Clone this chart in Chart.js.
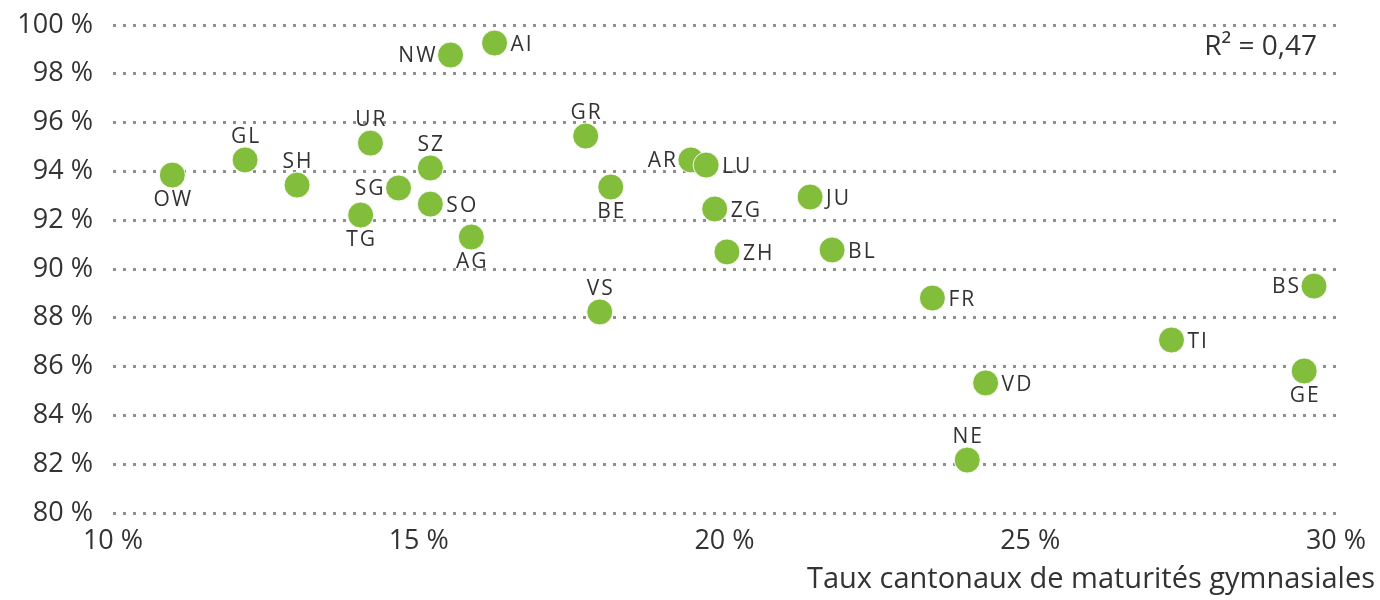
<!DOCTYPE html>
<html>
<head>
<meta charset="utf-8">
<script src="https://cdn.jsdelivr.net/npm/chart.js@4.4.1/dist/chart.umd.min.js"></script>
<style>
  html, body { margin: 0; padding: 0; background: #fff; }
  #wrap { width: 1380px; height: 600px; }
</style>
</head>
<body>
<div id="wrap"><canvas id="fig"></canvas></div>
<script>
// cantons and their values
const cantons = ["OW","GL","SH","UR","SZ","SG","SO","TG","NW","AI","GR","AR","LU","BE","ZG","JU","AG","ZH","BL","VS","FR","BS","TI","VD","GE","NE"];
const gymRate = [10.97,12.16,13.01,14.21,15.19,14.67,15.19,14.05,15.52,16.24,17.73,19.45,19.70,18.14,19.84,21.40,15.86,20.04,21.76,17.96,23.40,29.64,27.31,24.27,29.48,23.97];
const yRate   = [93.85,94.47,93.44,95.16,94.14,93.32,92.66,92.21,98.77,99.26,95.45,94.47,94.26,93.36,92.46,92.95,91.31,90.70,90.78,88.24,88.81,89.30,87.09,85.33,85.82,82.17];
const xTicks = [10, 15, 20, 25, 30];
const yTicks = [80, 82, 84, 86, 88, 90, 92, 94, 96, 98, 100];
const r2Text = "R\u00b2 = 0,47";
const xTitle = "Taux cantonaux de maturit\u00e9s gymnasiales";

// where each canton's code sits around its dot
const labelSide = {
    OW:"below", GL:"above", SH:"above", UR:"above", SZ:"above", SG:"left", SO:"right",
    TG:"below", NW:"left", AI:"right", GR:"above", AR:"left", LU:"right", BE:"below",
    ZG:"right", JU:"right", AG:"below", ZH:"right", BL:"right", VS:"above", FR:"right",
    BS:"left", TI:"right", VD:"right", GE:"below", NE:"above"
};

const FONT = "'Open Sans', sans-serif";
const TEXT = "#333333";

const pointLabels = {
    id: 'pointLabels',
    afterDatasetsDraw(chart) {
        const ctx = chart.ctx;
        const meta = chart.getDatasetMeta(0);
        ctx.save();
        ctx.font = "21px " + FONT;
        ctx.fillStyle = TEXT;
        ctx.letterSpacing = "2px";
        ctx.textBaseline = "middle";
        meta.data.forEach((pt, i) => {
            const name = cantons[i];
            const side = labelSide[name];
            let x = pt.x, y = pt.y;
            if (side == "above") { ctx.textAlign = "center"; y -= 23; x += 1; }
            else if (side == "below") { ctx.textAlign = "center"; y += 25; x += 1; }
            else if (side == "left") { ctx.textAlign = "right"; x -= 13; y += 1; }
            else { ctx.textAlign = "left"; x += 16; y += 2; }
            ctx.fillText(name, x, y);
        });
        ctx.restore();
    },
    afterDraw(chart) {
        const ctx = chart.ctx;
        const area = chart.chartArea;
        ctx.save();
        ctx.fillStyle = TEXT;
        ctx.textAlign = "right";
        ctx.textBaseline = "middle";
        ctx.font = "28px " + FONT;
        ctx.fillText(r2Text, area.right - 19, area.top + 22);
        ctx.font = "29px " + FONT;
        ctx.fillText(xTitle, chart.width - 5, 580);
        ctx.restore();
    }
};

new Chart(document.getElementById('fig').getContext('2d'), {
    type: 'scatter',
    data: {
        labels: cantons,
        datasets: [{
            data: gymRate.map((x, i) => ({ x: x, y: yRate[i] })),
            backgroundColor: '#82bd3c',
            borderColor: 'rgba(255,255,255,0.9)',
            borderWidth: 1,
            pointRadius: 13,
            pointHoverRadius: 13
        }]
    },
    options: {
        responsive: true,
        maintainAspectRatio: false,
        animation: false,
        layout: { padding: { top: 25, right: 44, left: 0, bottom: 0 } },
        plugins: { legend: { display: false }, tooltip: { enabled: false } },
        scales: {
            x: {
                type: 'linear',
                min: 10, max: 30,
                afterBuildTicks: (s) => { s.ticks = xTicks.map(v => ({ value: v })); },
                afterFit: (s) => { s.height = 87; s.paddingLeft = 0; s.paddingRight = 0; },
                grid: { display: false, drawTicks: false },
                border: { display: false },
                ticks: {
                    padding: 12,
                    color: TEXT,
                    font: { family: FONT, size: 27 },
                    callback: (v) => v + " %"
                }
            },
            y: {
                type: 'linear',
                min: 80, max: 100,
                afterBuildTicks: (s) => { s.ticks = yTicks.map(v => ({ value: v })); },
                afterFit: (s) => { s.width = 113; s.paddingTop = 0; s.paddingBottom = 0; },
                grid: { color: '#8f8f8f', lineWidth: 3, drawTicks: false },
                border: { display: false, dash: [3, 7] },
                ticks: {
                    padding: 20,
                    color: TEXT,
                    font: { family: FONT, size: 27 },
                    callback: (v) => v + " %"
                }
            }
        }
    },
    plugins: [pointLabels]
});
</script>
</body>
</html>
